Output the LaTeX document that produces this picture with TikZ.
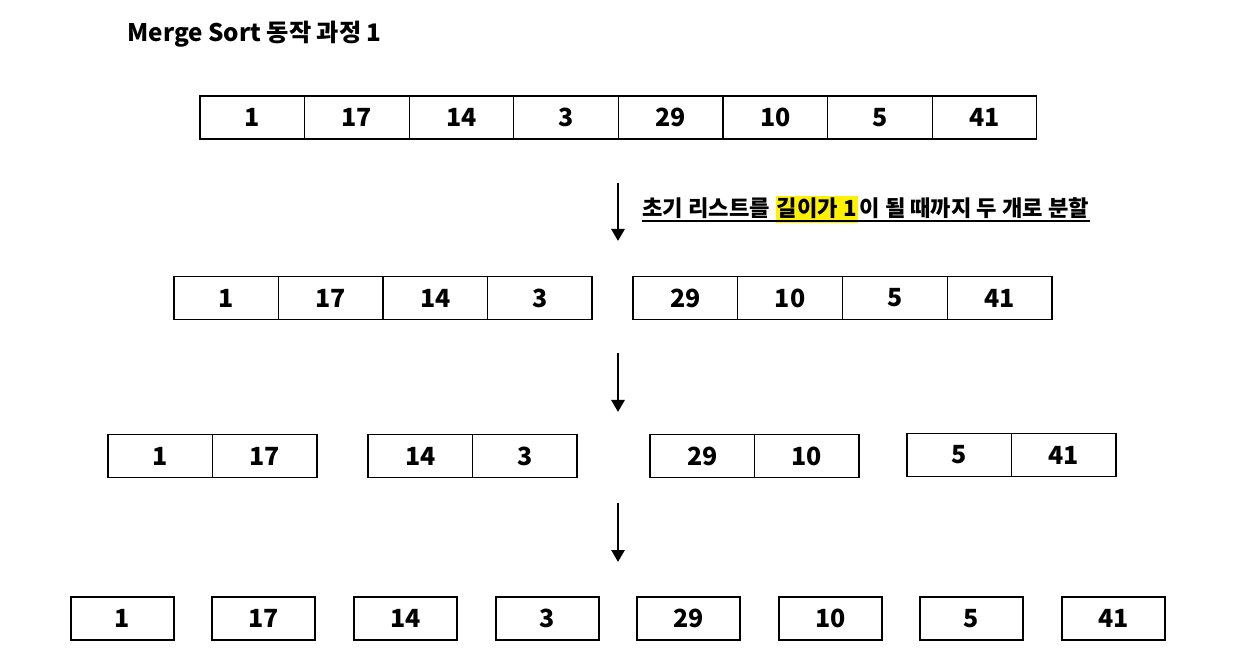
\documentclass[tikz,border=0pt]{standalone}
\usepackage{fontspec}
\setmainfont{Noto Sans CJK KR}
\usetikzlibrary{arrows.meta, positioning}
\tikzset{
  cell/.style   ={draw, line width=0.65pt, minimum width=52.3pt, minimum height=21.5pt, inner sep=0pt, font=\fontsize{12.5}{14}\selectfont\bfseries},
  single/.style ={cell, line width=1pt, minimum width=51.5pt},
  down/.style   ={-{Triangle[length=6pt, width=6.5pt]}, line width=1.4pt},
  note/.style   ={inner sep=0pt, font=\fontsize{11.1}{13}\selectfont\bfseries},
  heading/.style={inner sep=0pt, font=\fontsize{12.1}{14}\selectfont\bfseries},
  hilite/.style ={note, fill=yellow, inner xsep=0.5pt, text height=10.5pt, text depth=3pt},
  uline/.style  ={line width=0.6pt},
}
\begin{document}
\begin{tikzpicture}[x=0.5pt, y=-0.5pt]
  \useasboundingbox (0,0) rectangle (1236,662);
  % title
  \node[heading, anchor=base west] (title) at (127,42) {Merge Sort 동작 과정 1};

  % row 1: initial list
  \foreach \v [count=\i] in {1,17,14,3,29,10,5,41}
    \node[cell] (r1c\i) at ({200+104.6*(\i-0.5)},117.5) {\v};

  % split note
  \coordinate (a1t) at (618,183);
  \coordinate (a1b) at (618,241);
  \draw[down] (a1t) -- (a1b);
  \node[note, anchor=base west] (n1) at (642,217) {초기 리스트를};
  \node[hilite, anchor=base west] (n2) at ([xshift=2.5pt]n1.base east) {길이가 1};
  \node[note, anchor=base west] (n3) at ([xshift=0.5pt]n2.base east) {이 될 때까지 두 개로 분할};
  \draw[uline] ([yshift=-2pt]n1.base west) -- ([yshift=-2pt]n3.base east);

  % row 2: halves
  \foreach \v/\x [count=\i] in {1/226.3, 17/330.8, 14/435.3, 3/539.8, 29/685.4, 10/790.1, 5/894.9, 41/999.6}
    \node[cell] (r2c\i) at (\x,298) {\v};

  \coordinate (a2t) at (618,353);
  \coordinate (a2b) at (618,412);
  \draw[down] (a2t) -- (a2b);

  % row 3: quarters
  \foreach \v/\x/\y [count=\i] in {1/160.3/456, 17/264.8/456, 14/420.3/456, 3/524.8/456,
                                   29/702.3/456, 10/806.8/456, 5/959.3/455, 41/1063.8/455}
    \node[cell] (r3c\i) at (\x,\y) {\v};

  \coordinate (a3t) at (618,503);
  \coordinate (a3b) at (618,562);
  \draw[down] (a3t) -- (a3b);

  % row 4: length 1
  \foreach \v/\x [count=\i] in {1/122.5, 17/263.5, 14/405.5, 3/547.5, 29/688.5, 10/830.5, 5/971.5, 41/1113.5}
    \node[single] (r4c\i) at (\x,618.5) {\v};
\end{tikzpicture}
\end{document}
